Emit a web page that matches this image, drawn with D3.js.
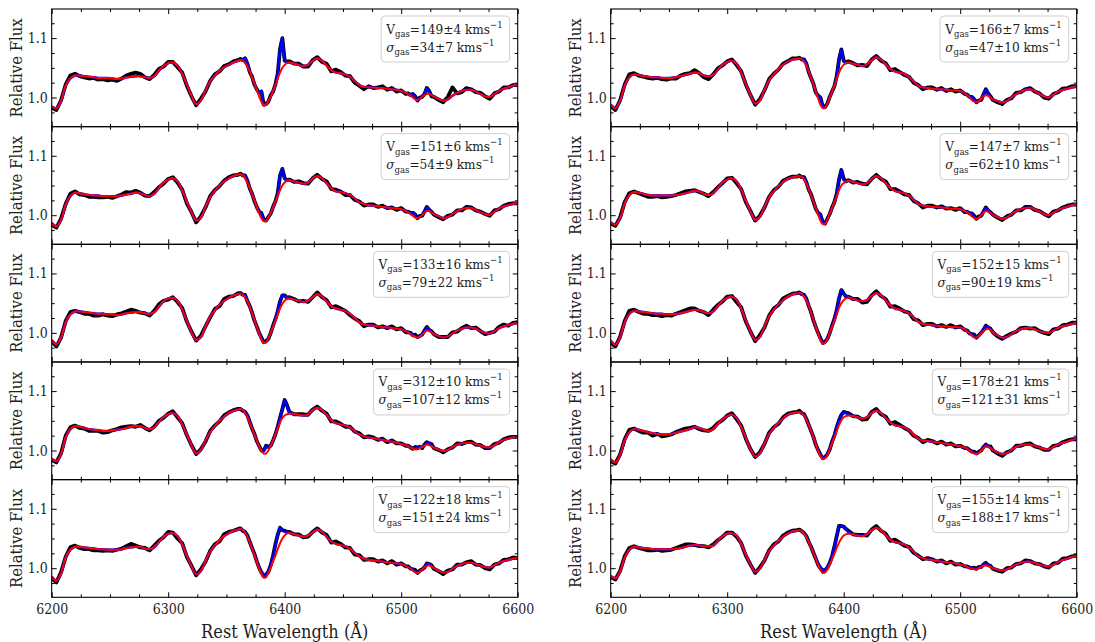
<!DOCTYPE html>
<html><head><meta charset="utf-8">
<script src="https://cdn.jsdelivr.net/npm/d3@7"></script>
<style>
body{margin:0;background:#fff}
svg{display:block}
svg text{font-family:"DejaVu Serif Condensed","DejaVu Serif",serif !important;font-stretch:condensed;fill:#1e1e1e}
</style>
</head><body>
<svg id="chart" width="1095" height="642"></svg>
<script>
// ---------------- DATA ----------------
// wavelength sampling (Å): 4 Å steps, 2 Å steps in the two emission windows
const wave = [].concat(d3.range(6200, 6360, 4), d3.range(6360, 6406, 2),
  d3.range(6408, 6504, 4), d3.range(6504, 6530, 2), d3.range(6532, 6601, 4));

const xTicks = [6200, 6300, 6400, 6500, 6600];
const yTicks = [1.0, 1.1];
const xMinorTicks = [6225, 6250, 6275, 6325, 6350, 6375, 6425, 6450, 6475, 6525, 6550, 6575];
const yMinorTicks = [0.975, 1.025, 1.05, 1.075, 1.125];

const panelNames = ["L1","L2","L3","L4","L5","R1","R2","R3","R4","R5"];
const vgas = ["149±4","151±6","133±16","312±10","122±18","166±7","147±7","152±15","178±21","155±14"];
const sgas = ["34±7","54±9","79±22","107±12","151±24","47±10","62±10","90±19","121±31","188±17"];

// stellar fit (red), (flux − 1) × 1000, on `wave`
const stellarL1 = [-15,-18,-6,20,32,37,37,36,35,34, 33,33,33,32,31,32,34,35,36,36, 34,33,36,45,53,58,59,54,40,22, 3,-11,-5,12,27,37,45,51,55,59,
 62,63,62,58,52,44,34,24,13,2, -7,-13,-12,-6,2,11,21,32,42,50, 55,58,59,
 57,55,53,55,62,66,62,54,46,42, 41,39,35,28,21,18,17,17,16,16, 15,14,13,11,
 8,6,3,0,-3,-4,-2,1,4,6,6,4,2,
 -2,-5,-3,3,8,11,13,13,10,6, 2,1,6,11,15,17,20,22];
const stellarL2 = [-13,-19,-8,18,32,38,37,35,34,33, 33,32,32,32,32,33,35,36,38,37, 34,32,36,46,55,60,62,57,42,23, 5,-9,-4,14,30,41,50,57,62,66,
 68,69,67,62,55,46,35,25,14,3, -5,-10,-9,-4,4,13,23,33,42,50, 55,58,59,
 57,55,53,55,62,66,62,54,45,40, 39,37,34,28,22,19,17,16,15,14, 13,12,11,10,
 7,5,2,-1,-4,-5,-3,0,4,7,7,5,2,
 -2,-5,-3,2,7,10,12,12,9,5, 2,1,6,11,15,17,19,21];
const stellarL3 = [-12,-19,-8,18,31,36,36,35,34,33, 32,32,31,31,30,31,33,34,35,35, 33,32,35,44,53,58,59,54,39,20, 1,-12,-7,11,27,38,47,54,59,63,
 65,66,64,60,53,44,33,22,10,-1, -11,-17,-16,-9,0,10,20,31,41,49, 54,57,58,
 56,54,52,54,60,65,61,53,45,41, 39,37,32,25,18,14,13,12,11,10, 9,8,7,6,
 3,1,-2,-5,-7,-8,-6,-3,1,4,3,1,-2,
 -5,-8,-6,-1,4,7,9,9,7,3, 0,-1,3,8,11,13,15,17];
const stellarL4 = [-14,-18,-6,22,36,41,40,38,36,35, 34,33,33,34,35,36,38,40,41,41, 38,36,39,48,56,61,63,58,44,27, 9,-5,1,17,31,41,50,57,63,67,
 69,70,68,63,56,47,37,27,17,7, -1,-5,-5,0,8,17,27,37,47,55, 59,61,62,
 62,60,59,61,68,72,68,60,51,46, 44,42,39,33,27,24,22,21,19,18, 16,15,13,11,
 9,7,5,3,2,2,4,6,8,10,9,7,5,
 2,-1,1,6,10,12,13,13,11,8, 6,5,9,14,18,20,22,24];
const stellarL5 = [-14,-21,-9,18,31,36,36,35,34,33, 32,32,31,31,31,32,34,35,36,36, 33,32,35,44,53,58,59,54,40,21, 3,-10,-5,12,28,38,47,54,59,63,
 65,66,64,60,53,44,33,22,11,0, -10,-16,-15,-8,1,11,21,32,42,50, 55,58,59,
 57,55,53,55,60,65,61,53,45,41, 39,37,33,26,20,16,14,13,12,11, 10,9,8,7,
 4,2,-1,-4,-7,-8,-6,-3,1,4,5,3,0,
 -4,-7,-6,-1,4,7,9,9,7,4, 2,1,5,9,12,14,16,17];
const stellarR1 = [-12,-18,-6,20,34,39,38,36,35,34, 34,33,33,33,34,36,38,40,42,41, 37,36,38,47,55,60,62,57,42,23, 4,-10,-5,13,29,39,48,55,60,64,
 65,66,64,60,53,44,33,22,10,-1, -12,-18,-17,-10,0,10,20,31,42,50, 55,58,59,
 57,55,53,56,63,68,64,56,48,44, 42,40,35,27,20,17,16,15,14,14, 13,12,12,11,
 7,4,0,-4,-7,-8,-6,-2,2,4,3,0,-3,
 -6,-8,-6,0,6,10,13,14,11,6, 2,0,5,10,13,15,17,19];
const stellarR2 = [-12,-16,-5,20,34,39,38,36,34,33, 33,33,33,33,34,35,37,39,41,40, 36,34,37,46,55,60,62,57,43,24, 6,-8,-3,14,30,40,49,56,61,64,
 65,66,64,60,53,44,34,23,12,1, -9,-15,-14,-7,2,12,22,32,42,50, 54,57,58,
 56,54,52,54,61,66,62,54,46,41, 39,37,33,26,19,16,15,14,14,13, 12,11,11,10,
 7,5,2,-2,-5,-6,-4,0,4,7,6,4,1,
 -3,-6,-4,2,7,10,12,13,10,6, 2,0,4,9,12,14,17,19];
const stellarR3 = [-13,-20,-8,18,32,37,36,35,34,33, 32,32,31,31,32,33,35,37,39,38, 35,33,36,45,54,59,61,56,41,21, 2,-12,-7,11,28,39,48,55,61,65,
 66,67,65,61,54,45,34,22,10,-1, -12,-18,-17,-10,0,10,20,31,42,50, 55,58,59,
 57,55,53,55,62,67,63,55,46,41, 39,37,33,26,19,15,14,13,12,11, 11,10,10,9,
 6,3,-1,-5,-8,-8,-5,-1,3,6,7,5,1,
 -4,-8,-7,-2,3,6,8,8,6,3, 1,0,4,8,11,13,15,17];
const stellarR4 = [-15,-20,-8,17,31,36,35,33,31,29, 28,27,27,28,30,32,34,36,39,38, 35,33,36,45,53,58,60,55,40,21, 2,-10,-5,12,28,38,47,54,60,63,
 64,65,63,59,52,43,33,22,11,0, -9,-14,-13,-7,2,12,22,33,43,51, 56,58,59,
 58,56,54,56,63,67,63,55,47,43, 41,39,34,27,20,17,16,15,14,13, 11,10,9,7,
 5,3,0,-3,-5,-6,-4,0,4,7,6,4,1,
 -3,-6,-4,1,6,9,10,10,8,5, 3,2,6,10,13,15,18,20];
const stellarR5 = [-13,-17,-6,18,31,36,35,34,33,32, 32,32,32,32,33,34,36,38,39,38, 37,37,38,46,54,58,59,55,41,23, 6,-6,-1,14,29,38,46,53,58,62,
 63,64,62,58,52,44,35,26,16,6, -3,-8,-7,-2,6,15,24,34,43,50, 55,57,58,
 57,55,54,57,64,68,64,56,48,44, 42,40,35,28,20,17,15,14,12,11, 10,9,8,6,
 4,2,0,-1,-2,-2,0,2,4,5,4,2,0,
 -2,-4,-2,2,6,9,11,11,9,6, 4,3,6,10,14,16,19,21];

// gas emission (blue − red), ×1000, window 6360–6404 Å (2 Å steps) and 6504–6528 Å (2 Å steps)
const gasB_L1 = [0,0,2,8,5,0,0,0,0,6, 18,2,0,0,0,0,0,8,40,50, 8,2,0];
const gasD_L1 = [0,0,2,6,4,0,0,0,3,10,4,0,0];
const gasB_L2 = [0,0,1,4,3,0,0,0,0,3, 8,3,0,0,0,0,0,4,25,28, 6,2,0];
const gasD_L2 = [0,0,2,6,4,0,0,0,2,6,3,0,0];
const gasB_L3 = [0,0,1,3,2,1,0,0,0,1, 3,2,1,0,0,1,3,6,12,14, 8,3,1];
const gasD_L3 = [0,0,1,2,2,1,0,1,3,4,3,1,0];
const gasB_L4 = [0,0,0,1,3,2,0,0,0,0, 1,5,12,6,1,0,0,3,8,15, 26,14,2];
const gasD_L4 = [0,0,0,1,3,3,1,0,1,3,4,2,0];
const gasB_L5 = [0,0,0,1,1,1,1,1,1,2, 3,4,3,2,5,10,18,24,26,14, 7,3,1];
const gasD_L5 = [0,0,1,2,2,1,1,1,2,3,2,1,0];
const gasB_R1 = [0,0,1,4,3,0,0,0,0,4, 12,4,0,0,0,0,0,5,22,31, 6,1,0];
const gasD_R1 = [0,0,2,5,3,0,0,0,3,10,5,0,0];
const gasB_R2 = [0,0,1,3,2,0,0,0,0,3, 10,4,0,0,0,0,0,4,18,26, 6,1,0];
const gasD_R2 = [0,0,2,5,3,0,0,0,2,5,3,0,0];
const gasB_R3 = [0,0,1,3,2,1,0,0,0,1, 3,2,1,0,0,1,3,7,16,22, 10,4,1];
const gasD_R3 = [0,0,1,3,3,1,0,1,3,5,3,1,0];
const gasB_R4 = [0,0,0,1,1,1,0,0,0,1, 2,2,1,1,1,2,4,6,8,9, 8,5,2];
const gasD_R4 = [0,0,1,2,2,1,1,1,2,2,2,1,0];
const gasB_R5 = [0,0,0,1,1,1,1,1,2,3, 5,6,5,3,2,5,12,20,27,21, 15,8,3];
const gasD_R5 = [0,0,1,2,2,1,1,1,2,3,2,1,0];

// residuals of the observed spectrum (black) about the full fit, ×1000, on `wave`
const residL1 = [-2,-3,1,2,5,3,-1,-2,-3,-1, -3,-2,-4,-2,-3,0,3,5,6,4, 0,-2,2,3,-1,2,1,-3,2,-2, -1,-2,3,-2,1,2,-1,2,1,2,
 1,2,-1,0,0,-1,1,-2,1,0, -1,-1,1,-1,2,-1,1,0,0,0, -1,1,2,
 0,2,-1,-3,1,2,-2,3,-2,5, 2,-2,1,-3,-1,-4,2,-1,1,3, -2,2,-3,1,
 -2,1,-1,0,1,-1,2,0,-1,0,1,-2,-1,
 -2,-3,4,14,-1,-2,3,1,-1,2, 0,-3,1,-1,2,0,1,-1];
const residL2 = [-3,-2,2,1,4,2,-2,-1,-3,-2, -3,-2,-1,-3,0,2,4,2,3,1, -1,0,3,1,-2,1,2,-2,1,-3, 0,-3,2,-1,2,1,-1,1,2,1,
 0,1,-1,1,0,-1,1,-1,0,0, 1,-1,0,1,-1,1,0,0,0,0, 1,-1,1,
 -1,2,1,-2,0,2,-1,3,-1,3, 1,-3,0,-2,1,-3,1,2,-1,2, -1,1,-2,2,
 -1,1,0,-1,1,0,2,-1,0,1,-1,1,-1,
 -1,-2,2,-1,1,-2,2,1,-1,1, 0,-2,2,-1,1,2,1,-1];
const residL3 = [-2,-4,0,2,4,1,-1,-3,-2,-4, -3,-1,-2,-3,1,2,3,5,2,-1, 0,-3,2,4,1,-2,1,-2,3,-1, 1,-1,2,0,-1,2,-2,3,2,-1,
 2,1,-1,1,-2,0,1,-1,1,0, 0,-1,1,-1,0,1,0,-1,0,0, 1,-1,1,
 1,-1,2,-2,0,3,-1,2,-2,4, 2,0,-2,-1,2,-3,1,2,-2,1, -1,3,-1,2,
 -2,0,1,-1,2,0,1,-1,0,2,-1,1,0,
 -2,1,-1,2,-2,1,3,-1,2,0, -2,1,-1,2,3,-1,2,1];
const residL4 = [-2,-2,1,3,3,1,-2,-1,-3,-2, -1,-3,-2,0,1,3,2,1,-1,2, 0,-2,1,2,-1,1,3,-2,2,-1, 0,-1,1,-2,2,1,-1,2,1,1,
 1,0,-1,1,0,-1,0,1,-1,1, 0,0,1,0,-1,0,0,0,0,0, 0,1,1,
 -1,1,2,-1,1,2,-1,2,-2,3, 1,-2,1,-1,2,-2,2,1,-1,2, -2,2,-1,1,
 -1,1,0,-1,1,0,1,-2,1,1,-1,2,-1,
 -1,-2,1,-1,2,-1,1,2,-1,1, -2,-1,2,-1,1,2,1,-1];
const residL5 = [-3,-3,2,1,4,2,-2,-3,-2,-3, -2,-3,-1,-2,0,1,3,6,2,-1, 1,-2,3,2,-1,3,1,-4,2,-2, 1,-2,3,-1,1,2,-2,3,2,0,
 1,1,-1,0,1,-1,0,1,0,-1, 0,-1,1,0,-1,0,1,0,0,0, 1,0,1,
 0,2,-1,-2,1,2,-1,3,-2,4, 2,-2,1,-3,2,-2,1,2,-1,2, -2,3,-2,1,
 -1,1,-1,0,2,-1,1,0,-2,1,0,1,-1,
 -1,-3,2,-1,2,-1,1,3,-1,1, -2,-3,1,-1,2,1,2,0];
const residR1 = [-2,-3,1,2,5,2,-1,-1,-2,-2, -1,-2,-3,-1,-2,1,2,1,4,0, -3,-5,1,2,-1,1,2,-2,2,-1, 0,-2,2,-1,2,1,-1,2,1,2,
 1,1,-1,0,1,-1,0,1,-1,0, 0,-1,1,0,1,0,-1,0,0,0, 1,0,2,
 1,-1,2,-3,1,2,-2,2,-2,4, 1,-2,0,-2,1,-3,1,2,-1,2, -2,2,-2,1,
 -1,1,-1,0,1,0,1,-2,0,0,-1,2,-1,
 -2,-3,2,-1,2,-1,1,2,-1,1, -2,-2,1,-1,2,1,2,0];
const residR2 = [-2,-2,1,2,3,1,-1,-2,-3,-2, -1,-3,-2,-1,0,2,3,2,1,-1, 0,-2,2,1,-1,2,1,-3,1,-2, 1,-1,2,-1,1,2,-1,2,1,1,
 0,1,-1,1,0,-1,1,0,-1,0, 0,-1,0,1,0,1,0,0,0,0, 1,-1,1,
 -1,2,1,-2,0,2,-1,3,-2,3, 1,-2,1,-2,1,-3,1,2,-1,2, -1,1,-2,2,
 -2,1,-1,0,1,0,2,-1,0,1,-1,1,0,
 -1,-2,2,-1,1,-2,2,1,-1,1, 0,-2,2,-1,1,2,1,-1];
const residR3 = [-3,-3,1,2,5,2,-1,-3,-2,-3, -2,-4,-1,-2,0,2,3,4,2,-1, 0,-3,3,2,-1,2,1,-4,2,-2, 0,-2,3,-2,1,2,-1,3,1,1,
 1,1,-1,0,1,-1,1,-1,0,0, 0,-1,1,0,0,1,0,0,0,0, 1,-1,1,
 0,2,-2,-3,1,3,-1,2,-2,4, 2,-1,1,-3,2,-2,1,2,-1,2, -1,3,-1,2,
 -1,1,-1,0,2,-1,1,0,-1,1,-1,1,0,
 -2,-2,2,1,-1,2,1,-1,2,0, -1,-2,2,-1,2,1,2,0];
const residR4 = [-3,-2,1,2,4,1,-2,-3,-1,-4, 0,-3,-2,-1,1,2,3,2,1,-2, -1,0,2,1,-2,1,3,-2,2,-1, 0,-1,2,-1,2,1,-2,2,2,1,
 1,2,0,1,0,-1,0,1,-1,0, 0,-1,1,0,-1,1,-1,0,0,0, 1,1,2,
 0,1,-2,-3,2,3,-2,2,-2,5, 2,-1,0,-2,1,-3,2,1,-2,2, -1,2,-2,1,
 -1,1,0,-1,1,0,1,-1,0,1,-1,2,-1,
 -2,-3,1,-1,2,-1,1,2,-1,0, -2,-1,2,-1,1,2,1,-1];
const residR5 = [-2,-2,1,2,3,1,-1,-2,-3,-2, -1,-3,-2,-1,1,3,4,2,0,-1, 0,-2,2,1,-1,2,1,-2,1,-2, 0,-2,2,-1,1,2,-1,2,2,1,
 1,1,0,0,1,-1,0,-1,-2,-3, -2,-2,-1,0,1,0,0,0,1,0, 0,1,2,
 0,1,2,-2,1,3,-1,2,-2,4, 1,-2,1,-2,1,-2,2,1,-1,2, -2,2,-2,1,
 -1,1,0,-1,1,0,1,-1,0,1,-1,1,-1,
 -2,-2,2,-1,1,-1,2,1,-1,1, -1,-2,2,-1,2,1,1,0];

const stellarAll = [stellarL1,stellarL2,stellarL3,stellarL4,stellarL5,stellarR1,stellarR2,stellarR3,stellarR4,stellarR5];
const gasBAll = [gasB_L1,gasB_L2,gasB_L3,gasB_L4,gasB_L5,gasB_R1,gasB_R2,gasB_R3,gasB_R4,gasB_R5];
const gasDAll = [gasD_L1,gasD_L2,gasD_L3,gasD_L4,gasD_L5,gasD_R1,gasD_R2,gasD_R3,gasD_R4,gasD_R5];
const residAll = [residL1,residL2,residL3,residL4,residL5,residR1,residR2,residR3,residR4,residR5];

// ---------------- LAYOUT ----------------
const FONT = '"DejaVu Serif Condensed","DejaVu Serif",serif';
const colLeft = [51.7, 610.7];
const panelW = 466;
const top0 = 9, rowH = 117.66;
const yDomain = [0.951, 1.149];
const svg = d3.select("#chart");

const zeros = n => new Array(n).fill(0);

panelNames.forEach((name, i) => {
  const col = i < 5 ? 0 : 1, row = i % 5;
  const L = colLeft[col], T = top0 + row * rowH;
  const x = d3.scaleLinear().domain([6200, 6600]).range([L, L + panelW]);
  const y = d3.scaleLinear().domain(yDomain).range([T + rowH, T]);

  const st = stellarAll[i], rs = residAll[i];
  const gas = [].concat(zeros(40), gasBAll[i], zeros(24), gasDAll[i], zeros(18));
  if (st.length !== wave.length || rs.length !== wave.length || gas.length !== wave.length)
    console.error("length mismatch", name, st.length, rs.length, gas.length, wave.length);
  const n = Math.min(wave.length, st.length, rs.length, gas.length);
  const red = [], blue = [], black = [];
  for (let k = 0; k < n; k++) {
    red.push([wave[k], 1 + st[k] / 1000]);
    blue.push([wave[k], 1 + (st[k] + gas[k]) / 1000]);
    black.push([wave[k], 1 + (st[k] + gas[k] + rs[k]) / 1000]);
  }

  const cid = "clip" + i;
  svg.append("clipPath").attr("id", cid).append("rect")
    .attr("x", L).attr("y", T).attr("width", panelW).attr("height", rowH);
  const g = svg.append("g").attr("clip-path", `url(#${cid})`);
  const lineLin = d3.line().x(d => x(d[0])).y(d => y(d[1]));
  const lineSm = d3.line().x(d => x(d[0])).y(d => y(d[1])).curve(d3.curveCatmullRom.alpha(0.5));
  g.append("path").datum(black).attr("d", lineLin).attr("fill", "none")
    .attr("stroke", "#000").attr("stroke-width", 3.8).attr("stroke-linejoin", "round");
  g.append("path").datum(blue).attr("d", lineSm).attr("fill", "none")
    .attr("stroke", "#0000ff").attr("stroke-width", 2.5);
  g.append("path").datum(red).attr("d", lineSm).attr("fill", "none")
    .attr("stroke", "#ff0000").attr("stroke-width", 2);

  // axes (inward ticks on all sides)
  const styleAxis = sel => { sel.attr("font-family", FONT); sel.select(".domain").remove(); sel.selectAll("line").attr("stroke", "#000").attr("stroke-width", 1); };
  const bottom = d3.axisBottom(x).tickValues(xTicks).tickSize(-5).tickPadding(7)
    .tickFormat(row === 4 ? d3.format("d") : () => "");
  svg.append("g").attr("transform", `translate(0,${T + rowH})`).call(bottom).call(styleAxis)
    .selectAll("text").attr("font-size", 14).attr("fill", "#1e1e1e");
  svg.append("g").attr("transform", `translate(0,${T + rowH})`)
    .call(d3.axisBottom(x).tickValues(xMinorTicks).tickSize(-3).tickFormat(() => "")).call(styleAxis);
  svg.append("g").attr("transform", `translate(0,${T})`)
    .call(d3.axisTop(x).tickValues(xTicks).tickSize(-5).tickFormat(() => "")).call(styleAxis);
  svg.append("g").attr("transform", `translate(0,${T})`)
    .call(d3.axisTop(x).tickValues(xMinorTicks).tickSize(-3).tickFormat(() => "")).call(styleAxis);
  svg.append("g").attr("transform", `translate(${L},0)`)
    .call(d3.axisLeft(y).tickValues(yTicks).tickSize(-5).tickPadding(4).tickFormat(d3.format(".1f"))).call(styleAxis)
    .selectAll("text").attr("font-size", 14).attr("fill", "#1e1e1e");
  svg.append("g").attr("transform", `translate(${L},0)`)
    .call(d3.axisLeft(y).tickValues(yMinorTicks).tickSize(-3).tickFormat(() => "")).call(styleAxis);
  svg.append("g").attr("transform", `translate(${L + panelW},0)`)
    .call(d3.axisRight(y).tickValues(yTicks).tickSize(-5).tickFormat(() => "")).call(styleAxis);
  svg.append("g").attr("transform", `translate(${L + panelW},0)`)
    .call(d3.axisRight(y).tickValues(yMinorTicks).tickSize(-3).tickFormat(() => "")).call(styleAxis);

  svg.append("rect").attr("x", L).attr("y", T).attr("width", panelW).attr("height", rowH)
    .attr("fill", "none").attr("stroke", "#000").attr("stroke-width", 1.1);

  // y label
  svg.append("text").attr("transform", `translate(${L - 35},${T + rowH / 2}) rotate(-90)`)
    .attr("text-anchor", "middle").attr("dominant-baseline", "central")
    .attr("font-family", FONT).attr("font-size", 16.5).text("Relative Flux");

  // annotation box
  const bg = svg.append("g").attr("font-family", FONT);
  const rect = bg.append("rect");
  const fs = 13.5, ss = 9.5;
  const mk = (yy, sym, ital, val) => {
    const t = bg.append("text").attr("y", yy).attr("font-size", fs);
    t.append("tspan").text(sym).attr("font-style", ital ? "italic" : "normal");
    t.append("tspan").text("gas").attr("font-size", ss).attr("dy", 3.5);
    t.append("tspan").text("=" + val + " kms").attr("dy", -3.5);
    t.append("tspan").text("−1").attr("font-size", ss).attr("dy", -6);
    return t;
  };
  const t1 = mk(T + 24.5, "V", false, vgas[i]);
  const t2 = mk(T + 42.5, "σ", true, sgas[i]);
  const w = Math.max(t1.node().getComputedTextLength(), t2.node().getComputedTextLength());
  const bw = w + 12, bx = L + panelW - 8 - bw;
  t1.attr("x", bx + 5); t2.attr("x", bx + 5);
  rect.attr("x", bx).attr("y", T + 7).attr("width", bw).attr("height", 46).attr("rx", 4)
    .attr("fill", "#fff").attr("fill-opacity", 0.8).attr("stroke", "#cfcfcf").attr("stroke-width", 1);
});

// x labels
colLeft.forEach(L => {
  svg.append("text").attr("x", L + panelW / 2).attr("y", 631)
    .attr("text-anchor", "middle").attr("dominant-baseline", "central")
    .attr("font-family", FONT).attr("font-size", 18).text("Rest Wavelength (Å)");
});
</script>
</body></html>
